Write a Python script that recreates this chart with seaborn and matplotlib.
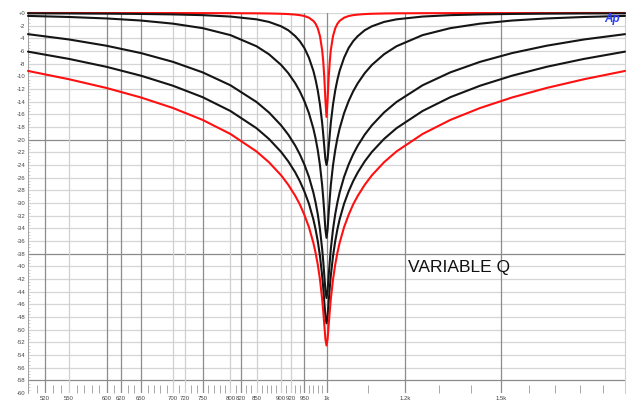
import matplotlib
matplotlib.use("Agg")
import matplotlib.pyplot as plt
import matplotlib.ticker as mticker
import seaborn as sns
import pandas as pd

# frequencias (Hz) lidas no grafico, mais densas perto do notch de 1 kHz
freq = [500, 550, 600, 650, 700, 750, 800, 850, 875, 900, 915, 930, 940, 950, 960,
        970, 975, 980, 985, 990, 992.5, 995, 997.5, 1000,
        1002.5, 1005, 1007.6, 1010, 1015.2, 1020.4, 1025.6, 1030.9, 1041.7, 1052.6,
        1063.8, 1075.3, 1092.9, 1111.1, 1142.9, 1176.5, 1250, 1333.3, 1428.6,
        1538.5, 1666.7, 1818.2, 2000]

# resposta (dB) de cada curva
q_alto_vermelho = [0, 0, -0.01, -0.01, -0.01, -0.02, -0.03, -0.05, -0.075, -0.12, -0.17,
                   -0.25, -0.34, -0.48, -0.74, -1.25, -1.7, -2.43, -3.66, -5.88, -7.68,
                   -10.26, -13.8, -16.4,
                   -13.8, -10.26, -7.68, -5.88, -3.66, -2.43, -1.7, -1.25, -0.74, -0.48,
                   -0.34, -0.25, -0.17, -0.12, -0.075, -0.05, -0.03, -0.02, -0.01,
                   -0.01, -0.01, 0, 0]
preto_1 = [-0.05, -0.07, -0.1, -0.15, -0.22, -0.34, -0.56, -1.0, -1.41, -2.1, -2.72,
           -3.65, -4.46, -5.54, -7.06, -9.14, -10.55, -12.26, -14.47, -17.37, -19.2,
           -21.2, -23.1, -24.0,
           -23.1, -21.2, -19.2, -17.37, -14.47, -12.26, -10.55, -9.14, -7.06, -5.54,
           -4.46, -3.65, -2.72, -2.1, -1.41, -1.0, -0.56, -0.34, -0.22, -0.15, -0.1,
           -0.07, -0.05]
preto_2 = [-0.46, -0.63, -0.86, -1.19, -1.68, -2.39, -3.49, -5.25, -6.52, -8.2, -9.49,
           -11.09, -12.38, -13.93, -15.81, -18.26, -19.81, -21.69, -24.06, -27.22,
           -29.25, -31.65, -34.2, -35.5,
           -34.2, -31.65, -29.25, -27.22, -24.06, -21.69, -19.81, -18.26, -15.81,
           -13.93, -12.38, -11.09, -9.49, -8.2, -6.52, -5.25, -3.49, -2.39, -1.68,
           -1.19, -0.86, -0.63, -0.46]
preto_3 = [-3.34, -4.18, -5.17, -6.33, -7.71, -9.37, -11.41, -14.05, -15.71, -17.74,
           -19.2, -20.94, -22.32, -23.94, -25.87, -28.36, -29.93, -31.8, -34.17, -37.3,
           -39.25, -41.5, -43.85, -45.0,
           -43.85, -41.5, -39.25, -37.3, -34.17, -31.8, -29.93, -28.36, -25.87, -23.94,
           -22.32, -20.94, -19.2, -17.74, -15.71, -14.05, -11.41, -9.37, -7.71, -6.33,
           -5.17, -4.18, -3.34]
preto_4 = [-6.1, -7.25, -8.5, -9.9, -11.48, -13.29, -15.47, -18.19, -19.89, -21.94,
           -23.42, -25.17, -26.56, -28.19, -30.11, -32.6, -34.17, -36.05, -38.4, -41.5,
           -43.4, -45.7, -47.9, -49.0,
           -47.9, -45.7, -43.4, -41.5, -38.4, -36.05, -34.17, -32.6, -30.11, -28.19,
           -26.56, -25.17, -23.42, -21.94, -19.89, -18.19, -15.47, -13.29, -11.48,
           -9.9, -8.5, -7.25, -6.1]
q_baixo_vermelho = [-9.15, -10.46, -11.84, -13.34, -15.0, -16.88, -19.1, -21.86, -23.57,
                    -25.63, -27.12, -28.87, -30.23, -31.89, -33.81, -36.3, -37.87, -39.75,
                    -42.09, -45.2, -47.1, -49.3, -51.5, -52.5,
                    -51.5, -49.3, -47.1, -45.2, -42.09, -39.75, -37.87, -36.3, -33.81,
                    -31.89, -30.23, -28.87, -27.12, -25.63, -23.57, -21.86, -19.1, -16.88,
                    -15.0, -13.34, -11.84, -10.46, -9.15]

curvas = {'Q alto': q_alto_vermelho, 'P1': preto_1, 'P2': preto_2,
          'P3': preto_3, 'P4': preto_4, 'Q baixo': q_baixo_vermelho}
cores = {'Q alto': '#ff1010', 'P1': '#151515', 'P2': '#151515',
         'P3': '#151515', 'P4': '#151515', 'Q baixo': '#ff1010'}

x_rotulos = [520, 550, 600, 620, 650, 700, 720, 750, 800, 820, 850, 900, 920, 950,
             1000, 1200, 1500]
x_textos = ['520', '550', '600', '620', '650', '700', '720', '750', '800', '820',
            '850', '900', '920', '950', '1k', '1.2k', '1.5k']
x_escuros = [520, 600, 620, 650, 750, 820, 950, 1000, 1200, 1500]

linhas = []
for nome, valores in curvas.items():
    for f, v in zip(freq, valores):
        linhas.append({'freq': f, 'db': v, 'curva': nome})
df = pd.DataFrame(linhas)

sns.set_style('white')
plt.rcParams['font.family'] = ['Liberation Sans', 'DejaVu Sans']

fig = plt.figure(figsize=(6.34, 4.04), dpi=100)
ax = fig.add_axes([28 / 634, 1 - 393 / 404, 597 / 634, 380 / 404])

# grade
for y in range(-58, 1, 2):
    cor = '#8a8a8a' if y in (-20, -38, -58) else '#d6d6d6'
    ax.axhline(y, color=cor, lw=0.9, zorder=0)
for f in x_rotulos:
    cor = '#8c8c8c' if f in x_escuros else '#d0d0d0'
    ax.axvline(f, color=cor, lw=0.9, zorder=0)

sns.lineplot(data=df, x='freq', y='db', hue='curva', palette=cores,
             legend=False, lw=1.5, ax=ax, zorder=3, clip_on=False)

ax.set_xscale('log')
ax.set_xlim(500, 2000)
ax.set_ylim(-60, 0)
ax.set_xlabel('')
ax.set_ylabel('')

ax.xaxis.set_major_locator(mticker.FixedLocator(x_rotulos))
ax.xaxis.set_major_formatter(mticker.FixedFormatter(x_textos))
menores = [f for f in list(range(510, 1000, 10)) + list(range(1100, 2000, 100))
           if f not in x_rotulos]
ax.xaxis.set_minor_locator(mticker.FixedLocator(menores))
ax.xaxis.set_minor_formatter(mticker.NullFormatter())
ax.tick_params(axis='x', which='major', length=0, labelsize=4.3,
               labelcolor='#444444', pad=2)
ax.tick_params(axis='x', which='minor', direction='in', length=6,
               width=0.6, color='#9a9a9a', bottom=True)

ax.set_yticks(range(-60, 1, 2))
ax.set_yticklabels(['+0' if v == 0 else str(v) for v in range(-60, 1, 2)])
ax.yaxis.set_minor_locator(mticker.MultipleLocator(0.5))
ax.tick_params(axis='y', which='major', direction='in', length=3, width=0.6,
               color='#999999', labelsize=4.3, labelcolor='#444444', pad=2)
ax.tick_params(axis='y', which='minor', direction='in', length=1.5,
               width=0.4, color='#aaaaaa', left=True)

for lado in ['top', 'bottom']:
    ax.spines[lado].set_visible(False)
ax.spines['left'].set_color('#a0a0a0')
ax.spines['left'].set_linewidth(0.7)
ax.spines['right'].set_color('#d0d0d0')
ax.spines['right'].set_linewidth(0.8)

ax.text(0.6365, 0.329, 'VARIABLE Q', transform=ax.transAxes, fontsize=12.5,
        ha='left', va='center', color='#111111')
fig.text(0.966, 1 - 19 / 404, 'Ap', ha='center', va='center', fontsize=8.5,
         fontweight='bold', style='italic', color='#2a3cff')

fig.savefig('out.png', dpi=100)
plt.close(fig)
